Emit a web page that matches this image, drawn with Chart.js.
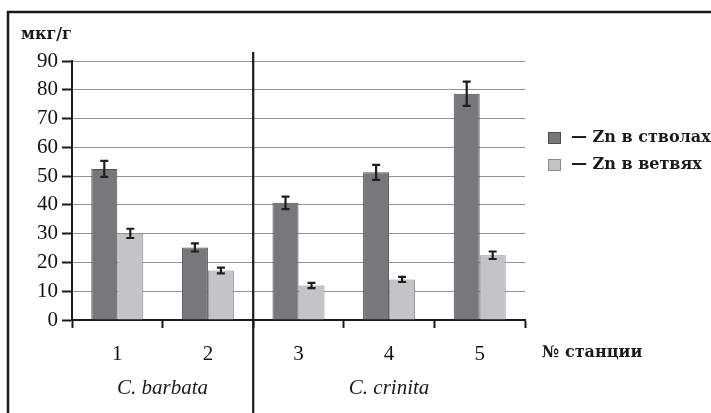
<!DOCTYPE html>
<html>
<head>
<meta charset="utf-8">
<script src="https://cdn.jsdelivr.net/npm/chart.js@4"></script>
<style>
  body { margin: 0; background: #fff; }
  canvas { display: block; }
</style>
</head>
<body>
<canvas id="znChart" width="711" height="413"></canvas>
<script>
// station numbers and Zn content (мкг/г)
const stations = ['1', '2', '3', '4', '5'];
const stemValues = [52.5, 25.2, 40.7, 51.3, 78.6];
const stemErrors = [2.8, 1.4, 2.2, 2.6, 4.2];
const branchValues = [30.1, 17.2, 12.0, 14.1, 22.5];
const branchErrors = [1.6, 1.0, 0.9, 0.9, 1.3];
const seriesNames = ['— Zn в стволах', '— Zn в ветвях'];
const species = ['C. barbata', 'C. crinita'];
const speciesGroups = [[0, 1], [2, 3, 4]];
const yMin = 0, yMax = 90, yStep = 10;

const darkFill = '#78787b', darkEdge = '#4e4e50';
const lightFill = '#c4c4c6', lightEdge = '#8a8a8c';

// error bars + frame + extra labels
const extras = {
  id: 'extras',
  afterDatasetsDraw(chart) {
    const ctx = chart.ctx;
    const y = chart.scales.y;
    ctx.save();
    ctx.strokeStyle = '#1e1e1e';
    ctx.lineWidth = 2.2;
    chart.data.datasets.forEach((ds, i) => {
      chart.getDatasetMeta(i).data.forEach((bar, j) => {
        const top = y.getPixelForValue(ds.data[j] + ds.errors[j]);
        const bot = y.getPixelForValue(ds.data[j] - ds.errors[j]);
        ctx.beginPath();
        ctx.moveTo(bar.x, top); ctx.lineTo(bar.x, bot);
        ctx.moveTo(bar.x - 4, top); ctx.lineTo(bar.x + 4, top);
        ctx.moveTo(bar.x - 4, bot); ctx.lineTo(bar.x + 4, bot);
        ctx.stroke();
      });
    });
    ctx.restore();
  },
  afterDraw(chart) {
    const ctx = chart.ctx;
    const x = chart.scales.x;
    ctx.save();
    // outer frame (top and left only)
    ctx.strokeStyle = '#1a1a1a';
    ctx.lineWidth = 2.5;
    ctx.beginPath();
    ctx.moveTo(chart.width, 12); ctx.lineTo(8, 12); ctx.lineTo(8, chart.height);
    ctx.stroke();
    // separator between species
    const sep = x.getPixelForValue(1.5);
    ctx.lineWidth = 2.2;
    ctx.beginPath();
    ctx.moveTo(sep, 52); ctx.lineTo(sep, chart.height);
    ctx.stroke();

    ctx.fillStyle = '#1a1a1a';
    // units
    ctx.font = 'bold 16px "DejaVu Serif"';
    ctx.textBaseline = 'middle';
    ctx.textAlign = 'left';
    ctx.fillText('мкг/г', 21, 35);
    // axis title
    ctx.fillText('№ станции', 542, 353);
    // species names
    ctx.font = 'italic 21px "Liberation Serif"';
    ctx.textAlign = 'center';
    speciesGroups.forEach((g, i) => {
      const cx = (x.getPixelForValue(g[0]) + x.getPixelForValue(g[g.length - 1])) / 2;
      ctx.fillText(species[i], cx, 388);
    });
    // legend
    ctx.font = 'bold 16px "DejaVu Serif"';
    ctx.textAlign = 'left';
    const fills = [darkFill, lightFill], edges = [darkEdge, lightEdge];
    seriesNames.forEach((name, i) => {
      const cy = 138 + i * 27;
      ctx.fillStyle = fills[i];
      ctx.fillRect(548, cy - 6, 13, 12);
      ctx.strokeStyle = edges[i];
      ctx.lineWidth = 1;
      ctx.strokeRect(548.5, cy - 5.5, 12, 11);
      ctx.fillStyle = '#1a1a1a';
      ctx.fillText(name, 571, cy);
    });
    ctx.restore();
  }
};

new Chart(document.getElementById('znChart'), {
  type: 'bar',
  data: {
    labels: stations,
    datasets: [{
      label: seriesNames[0],
      data: stemValues,
      errors: stemErrors,
      backgroundColor: darkFill,
      borderColor: darkEdge,
      borderWidth: 1
    }, {
      label: seriesNames[1],
      data: branchValues,
      errors: branchErrors,
      backgroundColor: lightFill,
      borderColor: lightEdge,
      borderWidth: 1
    }]
  },
  options: {
    responsive: false,
    animation: false,
    devicePixelRatio: 1,
    categoryPercentage: 0.574,
    barPercentage: 1.0,
    layout: { padding: { top: 61, right: 186, left: 0, bottom: 0 } },
    plugins: {
      legend: { display: false },
      tooltip: { enabled: false }
    },
    scales: {
      x: {
        afterFit(s) { s.height = 93; },
        grid: {
          drawOnChartArea: false,
          tickLength: 8,
          tickColor: '#1a1a1a',
          tickWidth: 2
        },
        border: { color: '#1a1a1a', width: 2 },
        ticks: {
          color: '#111',
          padding: 14,
          font: { family: 'Liberation Serif', size: 21 }
        }
      },
      y: {
        min: yMin,
        max: yMax,
        afterFit(s) { s.width = 72; },
        grid: {
          color: '#939393',
          lineWidth: 1,
          tickLength: 10,
          tickColor: '#1a1a1a',
          tickWidth: 2
        },
        border: { color: '#1a1a1a', width: 2 },
        ticks: {
          stepSize: yStep,
          color: '#111',
          padding: 4,
          font: { family: 'Liberation Serif', size: 21 }
        }
      }
    }
  },
  plugins: [extras]
});
</script>
</body>
</html>
